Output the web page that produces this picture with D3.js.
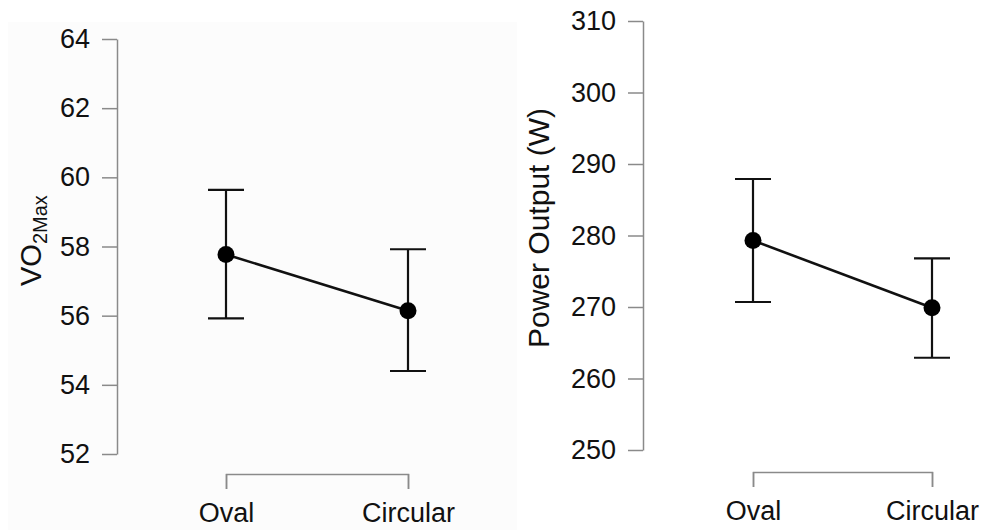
<!DOCTYPE html>
<html>
<head>
<meta charset="utf-8">
<script src="https://cdn.jsdelivr.net/npm/d3@7"></script>
<style>
  body { margin: 0; background: #fff; }
  text { font-family: "Liberation Sans", Arial, sans-serif; }
</style>
</head>
<body>
<div id="chart-area"></div>
<script>
// data
var categories = ["Oval", "Circular"];

var vo2Mean = [57.77, 56.14];
var vo2Upper = [59.64, 57.92];
var vo2Lower = [55.92, 54.40];
var vo2Ticks = [52, 54, 56, 58, 60, 62, 64];

var powerMean = [279.3, 269.9];
var powerUpper = [287.9, 276.8];
var powerLower = [270.7, 262.9];
var powerTicks = [250, 260, 270, 280, 290, 300, 310];

var width = 984, height = 530;

var svg = d3.select("#chart-area")
    .append("svg")
    .attr("width", width)
    .attr("height", height);

// faint backdrop of the left panel (scan artefact)
svg.append("rect")
    .attr("x", 8)
    .attr("y", 22)
    .attr("width", 509)
    .attr("height", 508)
    .attr("fill", "#fcfcfc");

function drawPanel(opts) {
    var g = svg.append("g");

    var y = d3.scaleLinear()
        .domain(opts.domain)
        .range(opts.yRange);

    var x = d3.scalePoint()
        .domain(categories)
        .range(opts.xRange);

    // Y axis
    var yAxisCall = d3.axisLeft(y)
        .tickValues(opts.ticks)
        .tickSize(15)
        .tickSizeOuter(0)
        .tickPadding(12)
        .tickFormat(function(d){ return d; });

    var yAxis = g.append("g")
        .attr("class", "y axis")
        .attr("transform", "translate(" + opts.axisX + ", 0)")
        .call(yAxisCall);
    yAxis.selectAll("path, line")
        .attr("stroke", "#8a8a8a")
        .attr("stroke-width", 1.5);
    yAxis.selectAll("text")
        .attr("fill", "#111")
        .style("font-size", "27px");

    // X axis (bracket)
    var xAxisCall = d3.axisBottom(x)
        .tickSize(15)
        .tickSizeOuter(15)
        .tickPadding(14);

    var xAxis = g.append("g")
        .attr("class", "x axis")
        .attr("transform", "translate(0, " + opts.axisY + ")")
        .call(xAxisCall);
    xAxis.selectAll("path, line")
        .attr("stroke", "#8a8a8a")
        .attr("stroke-width", 1.5);
    xAxis.selectAll("text")
        .attr("fill", "#111")
        .style("font-size", "27px");

    var data = categories.map(function(c, i){
        return { cat: c, mean: opts.mean[i], hi: opts.upper[i], lo: opts.lower[i] };
    });

    // error bars
    var bars = g.selectAll(".err")
        .data(data)
        .enter()
        .append("g")
        .attr("class", "err")
        .attr("stroke", "#111")
        .attr("stroke-width", 2.2);

    bars.append("line")
        .attr("x1", function(d){ return x(d.cat); })
        .attr("x2", function(d){ return x(d.cat); })
        .attr("y1", function(d){ return y(d.hi); })
        .attr("y2", function(d){ return y(d.lo); });
    bars.append("line")
        .attr("x1", function(d){ return x(d.cat) - 18; })
        .attr("x2", function(d){ return x(d.cat) + 18; })
        .attr("y1", function(d){ return y(d.hi); })
        .attr("y2", function(d){ return y(d.hi); });
    bars.append("line")
        .attr("x1", function(d){ return x(d.cat) - 18; })
        .attr("x2", function(d){ return x(d.cat) + 18; })
        .attr("y1", function(d){ return y(d.lo); })
        .attr("y2", function(d){ return y(d.lo); });

    var line = d3.line()
        .x(function(d){ return x(d.cat); })
        .y(function(d){ return y(d.mean); });

    g.append("path")
        .datum(data)
        .attr("fill", "none")
        .attr("stroke", "#111")
        .attr("stroke-width", 2.6)
        .attr("d", line);

    g.selectAll("circle")
        .data(data)
        .enter()
        .append("circle")
        .attr("cx", function(d){ return x(d.cat); })
        .attr("cy", function(d){ return y(d.mean); })
        .attr("r", 8.5)
        .attr("fill", "#000");

    return g;
}

var left = drawPanel({
    domain: [52, 64], yRange: [454, 39], xRange: [226, 408],
    axisX: 117, axisY: 474, ticks: vo2Ticks,
    mean: vo2Mean, upper: vo2Upper, lower: vo2Lower
});

var right = drawPanel({
    domain: [250, 310], yRange: [450, 21], xRange: [753, 932],
    axisX: 643, axisY: 472, ticks: powerTicks,
    mean: powerMean, upper: powerUpper, lower: powerLower
});

// Y labels
var vo2Label = left.append("text")
    .attr("transform", "translate(41, 286) rotate(-90)")
    .attr("fill", "#111")
    .style("font-size", "29px");
vo2Label.append("tspan").text("VO");
vo2Label.append("tspan")
    .attr("dy", 6)
    .style("font-size", "20px")
    .text("2Max");

right.append("text")
    .attr("transform", "translate(549, 228) rotate(-90)")
    .attr("text-anchor", "middle")
    .attr("fill", "#111")
    .style("font-size", "30px")
    .text("Power Output (W)");
</script>
</body>
</html>
